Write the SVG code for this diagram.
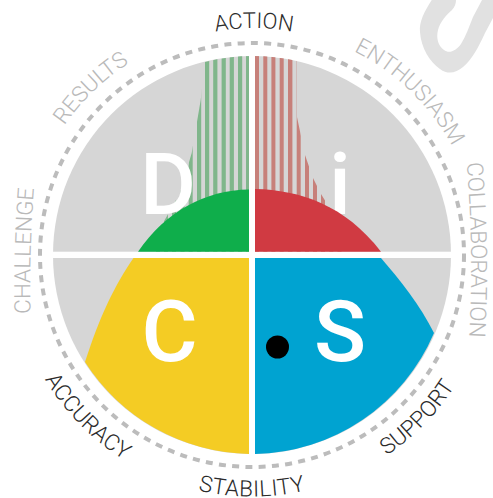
<svg xmlns="http://www.w3.org/2000/svg" xmlns:xlink="http://www.w3.org/1999/xlink" width="493" height="498" viewBox="0 0 493 498">
<style>
text{font-family:Roboto,"Liberation Sans",sans-serif}
.big{font-size:86px;font-weight:500;fill:#fff;text-anchor:middle}
.lab{font-size:22.5px;font-weight:300;text-anchor:middle}
.dk{fill:#2b2b2b}
.lt{fill:#b9b9b9}
.g{fill:#80b68b}
.r{fill:#c7807a}
</style>
<defs>
<path id="arcAction" d="M154 54.8A200 200 0 0 1 354 54.8"/>
<path id="arcTop" d="M37.8 177A228 228 0 0 1 466.2 177"/>
<path id="arcBot" d="M25.1 337.6A241.5 241.5 0 0 0 479 337.6"/>
<path id="arcRight" d="M461 110Q479 250 465 390"/>
<path id="arcLeft" d="M33 376Q25 251 40 126"/>
<clipPath id="bell"><path d="M138 252L163 223L180 193L191.7 153L200.7 100L205 62A199 199 0 0 1 297 61L297 117L305 155L313 178L321 194L329 207L345 225L381 252Z"/></clipPath>
</defs>
<rect width="493" height="498" fill="#fff"/>
<path id="watermark" fill="#e1e1e1" d="M431.7 0C424 12 419 22 420 32C421 48 430 62 440 69C448 75 456 73 463 67C472 60 479 46 485 33L493 18V0H482L473 17C469 27 466 36 461 44C456 51 449 54 444 50C438 46 436 38 438 30C440 22 447 14 452 10C455 7 456 3 456 0Z"/>
<circle id="ring" cx="252" cy="255" r="212" fill="none" stroke="#bcbcbc" stroke-width="4" stroke-dasharray="7 6.3"/>
<circle id="disc" cx="252" cy="255" r="199" fill="#d6d6d6"/>
<g id="stripes" clip-path="url(#bell)">
<g class="g">
<rect x="156" y="50" width="4" height="210"/><rect x="164" y="50" width="4" height="210"/><rect x="172" y="50" width="4" height="210"/><rect x="180.5" y="50" width="4" height="210"/><rect x="188.7" y="50" width="4" height="210"/><rect x="197" y="50" width="4.2" height="210"/><rect x="205" y="50" width="4.2" height="210"/><rect x="213.2" y="50" width="4.2" height="210"/><rect x="221.6" y="50" width="4.2" height="210"/><rect x="229.7" y="50" width="4.2" height="210"/><rect x="238" y="50" width="4.2" height="210"/><rect x="246" y="50" width="3" height="210"/>
</g>
<g class="r">
<rect x="255" y="50" width="4" height="210"/><rect x="263.3" y="50" width="4" height="210"/><rect x="271.4" y="50" width="4" height="210"/><rect x="279.7" y="50" width="4" height="210"/><rect x="288" y="50" width="4.4" height="210"/><rect x="296.7" y="50" width="4" height="210"/><rect x="305" y="50" width="4" height="210"/><rect x="313" y="50" width="4" height="210"/><rect x="321" y="50" width="4" height="210"/><rect x="329.3" y="50" width="4" height="210"/><rect x="337.5" y="50" width="4" height="210"/>
</g>
</g>
<g id="cross" fill="#fff"><rect x="249" y="50" width="6" height="410"/><rect x="48" y="251.7" width="408" height="6.3"/></g>
<g id="quadrant-D"><text class="big" x="168" y="214">D</text><path fill="#0fae4b" d="M138 251.7C165 212 205 190 249 189.5V251.7Z"/></g>
<g id="quadrant-i"><text class="big" x="340" y="214">i</text><path fill="#d03a42" d="M255 189C300 190 345 205 381 251.7H255Z"/></g>
<g id="quadrant-C"><path fill="#f4cc24" d="M133.5 258C115 285 100 315 85 362A199 199 0 0 0 249 454V258Z"/><text class="big" x="169.5" y="361">C</text></g>
<g id="quadrant-S"><path fill="#00a3d1" d="M255 258H381C400 280 420 305 434 333A199 199 0 0 1 255 454Z"/><text class="big" x="340" y="361">S</text><circle cx="277.5" cy="347" r="11.5" fill="#000"/></g>
<g id="labels">
<text class="lab dk" style="font-size:22px"><textPath href="#arcAction" xlink:href="#arcAction" startOffset="50%">ACTION</textPath></text>
<g transform="rotate(44 252 255)"><text class="lab lt"><textPath href="#arcTop" xlink:href="#arcTop" startOffset="50%">ENTHUSIASM</textPath></text></g>
<g transform="rotate(-44 252 255)"><text class="lab lt"><textPath href="#arcTop" xlink:href="#arcTop" startOffset="50%">RESULTS</textPath></text></g>
<text class="lab lt"><textPath href="#arcRight" xlink:href="#arcRight" startOffset="50%">COLLABORATION</textPath></text>
<text class="lab lt"><textPath href="#arcLeft" xlink:href="#arcLeft" startOffset="50%">CHALLENGE</textPath></text>
<text class="lab dk" style="letter-spacing:.5px"><textPath href="#arcBot" xlink:href="#arcBot" startOffset="50%">STABILITY</textPath></text>
<g transform="rotate(45.5 252 255)"><text class="lab dk"><textPath href="#arcBot" xlink:href="#arcBot" startOffset="50%">ACCURACY</textPath></text></g>
<g transform="rotate(-45.5 252 255)"><text class="lab dk"><textPath href="#arcBot" xlink:href="#arcBot" startOffset="50%">SUPPORT</textPath></text></g>
</g>
</svg>
